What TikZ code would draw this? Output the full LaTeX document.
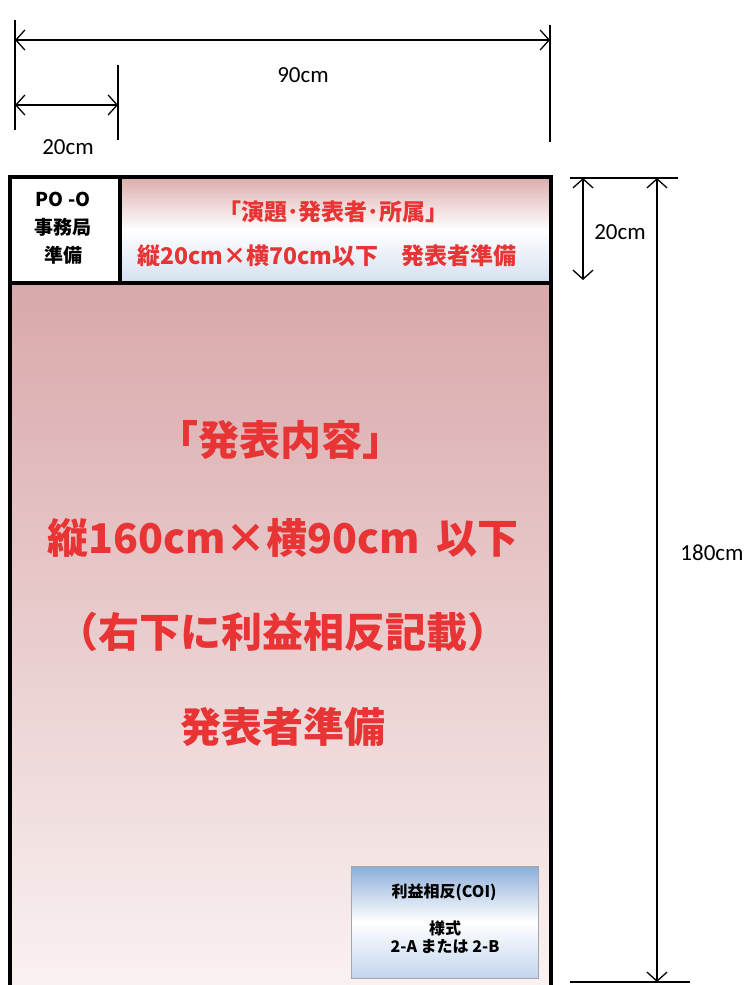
\documentclass[tikz,border=0pt]{standalone}
\usepackage{fontspec}
\usepackage{xcolor}
\setmainfont{Carlito}
\newfontfamily\jp{Noto Sans CJK JP}
\usetikzlibrary{arrows.meta}
\definecolor{posterred}{RGB}{232,52,52}
\definecolor{headpink}{RGB}{220,172,172}
\definecolor{headblue}{RGB}{212,224,240}
\definecolor{bodypink}{RGB}{217,168,170}
\definecolor{bodylight}{RGB}{250,242,242}
\definecolor{coiblue}{RGB}{140,174,218}
\definecolor{coilight}{RGB}{196,214,238}
\begin{document}
\begin{tikzpicture}[x=1pt,y=-1pt,
    dim/.style={{Straight Barb[length=9pt,width=20pt]}-{Straight Barb[length=9pt,width=20pt]},line width=1.3pt},
    ext/.style={line width=1.3pt},
    dimlabel/.style={font=\fontsize{23}{26}\selectfont},
    headtext/.style={text=posterred,font=\jp\bfseries\fontsize{23}{26}\selectfont},
    bigtext/.style={text=posterred,font=\jp\bfseries\fontsize{41}{46}\selectfont},
    celltext/.style={font=\jp\bfseries\fontsize{19}{28}\selectfont},
    coitext/.style={font=\jp\bfseries\fontsize{16}{18}\selectfont}]
  \useasboundingbox (0,0) rectangle (753,985);

  % dimensions on top
  \coordinate (L0) at (15,20);   \coordinate (L1) at (15,130);
  \coordinate (R0) at (550,25);  \coordinate (R1) at (550,142);
  \coordinate (M0) at (118,65);  \coordinate (M1) at (118,140);
  \draw[ext] (L0) -- (L1);
  \draw[ext] (R0) -- (R1);
  \draw[ext] (M0) -- (M1);
  \coordinate (WA) at (15,40);  \coordinate (WB) at (550,40);
  \coordinate (SA) at (15,105); \coordinate (SB) at (118,105);
  \draw[dim] (WA) -- (WB);
  \draw[dim] (SA) -- (SB);
  \node[dimlabel] (Width) at (303,75) {90cm};
  \node[dimlabel] (Small) at (68,147) {20cm};

  % board
  \shade[top color=bodypink,bottom color=bodylight] (10,283) rectangle (551,990);
  \shade[top color=headpink,bottom color=headblue,middle color=white] (120,177) rectangle (551,283);
  \fill[white] (10,177) rectangle (120,283);
  \draw[line width=4pt] (10,177) rectangle (551,992);
  \draw[line width=4pt] (10,283) -- (551,283);
  \draw[line width=4pt] (120,177) -- (120,283);

  \node[celltext,align=center] (Office) at (63,228) {PO -O\\事務局\\準備};
  \node[headtext] (Title) at (333,212) {「演題･発表者･所属」};
  \node[headtext] (Size) at (327,256) {縦20cm×横70cm以下　発表者準備};

  \node[bigtext] (Content) at (280,440) {「発表内容」};
  \node[bigtext] (Body) at (283,538) {縦160cm×横90cm\hspace{0.4em}以下};
  \node[bigtext] (Coi) at (283,632) {（右下に利益相反記載）};
  \node[bigtext] (Author) at (283,727) {発表者準備};

  % COI box
  \shade[top color=coiblue,bottom color=coilight,middle color=white,draw=gray!70,line width=1pt]
    (351,866) rectangle (538,978);
  \node[coitext] (CoiHead) at (444,892) {利益相反(COI)};
  \node[coitext,align=center] (CoiForm) at (445,937) {様式\\2-A または 2-B};

  % dimensions on the right
  \coordinate (T0) at (570,178); \coordinate (T1) at (678,178);
  \coordinate (B0) at (570,982); \coordinate (B1) at (690,982);
  \draw[ext] (T0) -- (T1);
  \draw[ext] (B0) -- (B1);
  \coordinate (HA) at (583,178); \coordinate (HB) at (583,280);
  \coordinate (VA) at (657,178); \coordinate (VB) at (657,982);
  \draw[dim] (HA) -- (HB);
  \draw[dim] (VA) -- (VB);
  \node[dimlabel] (Head) at (620,232) {20cm};
  \node[dimlabel] (Full) at (712,553) {180cm};
\end{tikzpicture}
\end{document}
